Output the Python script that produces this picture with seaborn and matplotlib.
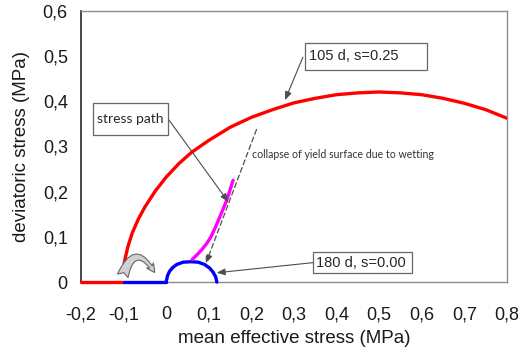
import seaborn as sns
import matplotlib.pyplot as plt
from matplotlib.patches import Rectangle, FancyArrowPatch

# Yield surface after 105 days, suction s = 0.25 MPa (p', q in MPa)
p_105 = [-0.100, -0.098, -0.095, -0.090, -0.080, -0.065, -0.050, -0.025, 0.000, 0.030,
         0.060, 0.100, 0.150, 0.200, 0.250, 0.300, 0.350, 0.400, 0.450, 0.500,
         0.550, 0.600, 0.650, 0.700, 0.750, 0.800]
q_105 = [0.030, 0.045, 0.058, 0.078, 0.108, 0.140, 0.166, 0.202, 0.232, 0.262,
         0.287, 0.313, 0.342, 0.364, 0.381, 0.396, 0.406, 0.414, 0.418, 0.420,
         0.418, 0.414, 0.406, 0.395, 0.381, 0.362]
# tensile branch along the p' axis
p_105_t = [-0.2, -0.1]
q_105_t = [0.0, 0.0]

# Yield surface after 180 days, saturated (s = 0.00)
p_180 = [0.000, 0.003, 0.008, 0.015, 0.025, 0.040, 0.058, 0.075, 0.090, 0.102, 0.110, 0.116, 0.119]
q_180 = [0.000, 0.014, 0.024, 0.032, 0.039, 0.044, 0.045, 0.044, 0.039, 0.031, 0.022, 0.012, 0.000]
p_180_t = [-0.1, 0.0]
q_180_t = [0.0, 0.0]

# Measured stress path
p_path = [0.061, 0.072, 0.083, 0.095, 0.105, 0.115, 0.125, 0.133, 0.140, 0.146, 0.151, 0.157]
q_path = [0.050, 0.060, 0.071, 0.085, 0.100, 0.120, 0.142, 0.160, 0.176, 0.192, 0.207, 0.225]

x_ticks = [-0.2, -0.1, 0.0, 0.1, 0.2, 0.3, 0.4, 0.5, 0.6, 0.7, 0.8]
x_tick_labels = ["-0,2", "-0,1", "0", "0,1", "0,2", "0,3", "0,4", "0,5", "0,6", "0,7", "0,8"]
y_ticks = [0.0, 0.1, 0.2, 0.3, 0.4, 0.5, 0.6]
y_tick_labels = ["0", "0,1", "0,2", "0,3", "0,4", "0,5", "0,6"]

sns.set_style("white")
plt.rcParams["font.family"] = ["Liberation Sans", "DejaVu Sans"]

fig = plt.figure(figsize=(5.21, 3.50), dpi=100)
ax = fig.add_axes([0.1555, 0.194, 0.8175, 0.776])

lw = 2.4
sns.lineplot(x=p_105_t, y=q_105_t, color="red", lw=lw, sort=False, estimator=None, ax=ax, clip_on=False, zorder=4)
sns.lineplot(x=p_105, y=q_105, color="red", lw=lw, sort=False, estimator=None, ax=ax, zorder=4)
sns.lineplot(x=p_180_t, y=q_180_t, color="blue", lw=lw, sort=False, estimator=None, ax=ax, clip_on=False, zorder=4)
sns.lineplot(x=p_180, y=q_180, color="blue", lw=lw, sort=False, estimator=None, ax=ax, clip_on=False, zorder=4)
sns.lineplot(x=p_path, y=q_path, color="magenta", lw=lw, sort=False, estimator=None, ax=ax, zorder=4)

ax.set_xlim(-0.2, 0.8)
ax.set_ylim(0, 0.6)
ax.set_xticks(x_ticks)
ax.set_xticklabels(x_tick_labels)
ax.set_yticks(y_ticks)
ax.set_yticklabels(y_tick_labels)
ax.tick_params(axis="both", direction="out", length=4.5, width=0.9, color="0.35",
               labelsize=13, labelcolor="#1a1a1a")
ax.tick_params(axis="x", pad=13)
ax.tick_params(axis="y", pad=5)
ax.set_xlabel("mean effective stress (MPa)", fontsize=13.5, labelpad=5, color="#1a1a1a")
ax.set_ylabel("deviatoric stress (MPa)", fontsize=13.5, labelpad=9, color="#1a1a1a")

for side in ["top", "right", "bottom"]:
    ax.spines[side].set_color("0.55")
    ax.spines[side].set_linewidth(1.0)
ax.spines["left"].set_color("0.15")
ax.spines["left"].set_linewidth(1.2)
ax.spines["bottom"].set_zorder(1)

arrow_kw = dict(arrowstyle="-|>,head_length=0.5,head_width=0.2", color="0.3", lw=0.8,
                shrinkA=0, shrinkB=0)

# label boxes
def label_box(x0, y0, x1, y1, text, tx, family, size):
    ax.add_patch(Rectangle((x0, y0), x1 - x0, y1 - y0, fc="white", ec="0.4", lw=0.9, zorder=6))
    ax.text(tx, (y0 + y1) / 2, text, ha="left", va="center", fontsize=size,
            family=family, zorder=7)

label_box(0.326, 0.469, 0.612, 0.529, "105 d, s=0.25", 0.336, ["Liberation Sans"], 10.5)
ax.annotate("", xy=(0.279, 0.402), xytext=(0.321, 0.497), arrowprops=arrow_kw, zorder=5)

label_box(-0.171, 0.325, 0.005, 0.395, "stress path", -0.163, ["Lato"], 10)
ax.annotate("", xy=(0.146, 0.177), xytext=(0.005, 0.36), arrowprops=arrow_kw, zorder=5)

label_box(0.345, 0.019, 0.576, 0.067, "180 d, s=0.00", 0.351, ["Liberation Sans"], 10.5)
ax.annotate("", xy=(0.1185, 0.0206), xytext=(0.345, 0.043), arrowprops=arrow_kw, zorder=5)

# collapse of the yield surface on wetting
ax.annotate("", xy=(0.093, 0.041), xytext=(0.212, 0.337),
            arrowprops=dict(arrowstyle="-|>,head_length=0.5,head_width=0.2", color="0.3",
                            lw=0.9, ls=(0, (4, 2.5)), shrinkA=0, shrinkB=0), zorder=5)
ax.text(0.201, 0.281, "collapse of yield surface due to wetting", fontsize=7.6,
        family=["Lato"], color="0.2", ha="left", va="center")

# curved block arrow showing the shift of the surface
ax.add_patch(FancyArrowPatch((-0.104, 0.008), (-0.024, 0.016),
                             connectionstyle="arc3,rad=-1.15",
                             arrowstyle="fancy,head_length=6,head_width=6,tail_width=8",
                             fc="0.82", ec="0.4", lw=0.8, zorder=5, clip_on=False))

fig.savefig("out.png", dpi=100)
